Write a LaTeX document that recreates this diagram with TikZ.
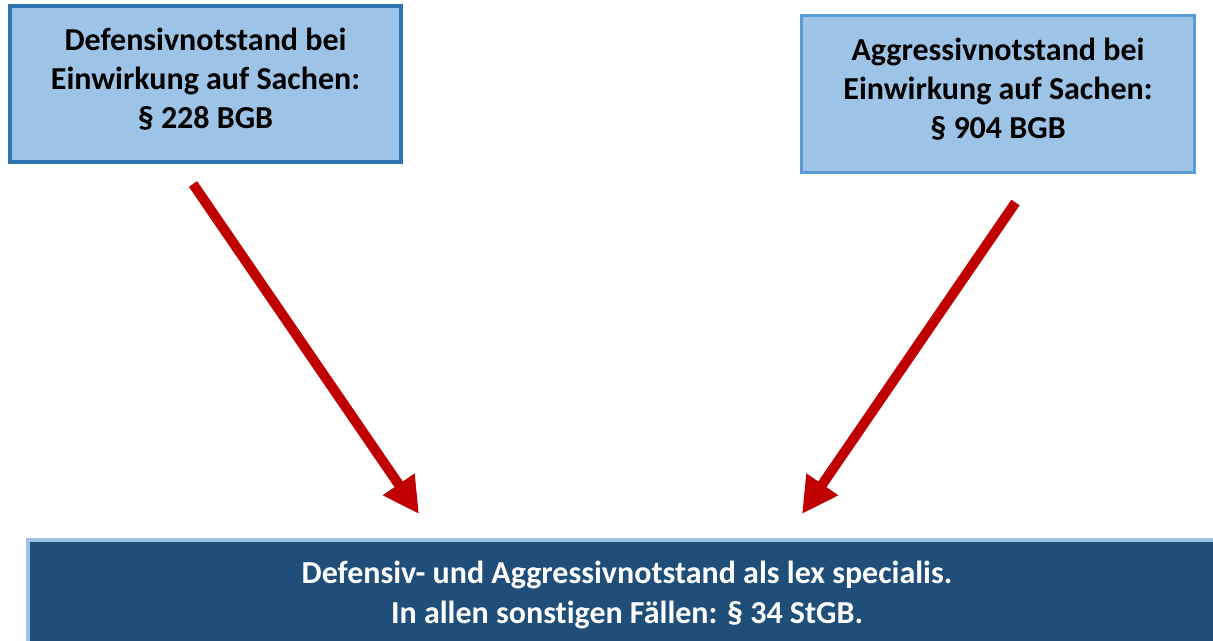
\documentclass[tikz,border=0pt]{standalone}
\usepackage{fontspec}
\setmainfont{Carlito}[Ligatures=NoCommon]
\usetikzlibrary{arrows.meta,positioning}

\definecolor{boxfill}{HTML}{9DC3E6}
\definecolor{boxline}{HTML}{2E75B6}
\definecolor{boxlinelight}{HTML}{5B9BD5}
\definecolor{lexfill}{HTML}{1F4E79}
\definecolor{arrowred}{HTML}{C00000}

\begin{document}
\begin{tikzpicture}[x=1pt,y=-1pt,
    norm/.style={rectangle,draw=boxline,fill=boxfill,line width=3.5pt,
      align=center,inner sep=0pt,font=\fontsize{32}{39}\selectfont\bfseries},
    lex/.style={rectangle,draw=boxfill,fill=lexfill,line width=4pt,
      align=center,inner sep=0pt,text=white,
      font=\fontsize{32}{40}\selectfont\bfseries},
    pfeil/.style={draw=arrowred,line width=10pt,
      -{Triangle[length=36pt,width=36pt]}}]
    \useasboundingbox (0,0) rectangle (1213,640);
    % Normen
    \node[norm,minimum width=391pt,minimum height=156pt] (defbox) at (205.5,84)
      {Defensivnotstand bei\\Einwirkung auf Sachen:\\§ 228 BGB\rule[-11pt]{0pt}{0pt}};
    \node[norm,draw=boxlinelight,line width=3pt,minimum width=393pt,
      minimum height=157pt] (aggbox) at (998,94)
      {Aggressivnotstand bei\\Einwirkung auf Sachen:\\§ 904 BGB\rule[-11pt]{0pt}{0pt}};
    % Ergebnis
    \node[lex,minimum width=1198pt,minimum height=110pt] (lexbox) at (627,595)
      {Defensiv- und Aggressivnotstand als lex specialis.\\In allen sonstigen Fällen: § 34 StGB.};
    % Pfeile
    \coordinate (defstart) at (193,184);
    \coordinate (defend) at (419,514);
    \coordinate (aggstart) at (1015.5,202.5);
    \coordinate (aggend) at (802,514);
    \draw[pfeil] (defstart) -- (defend);
    \draw[pfeil] (aggstart) -- (aggend);
\end{tikzpicture}
\end{document}
